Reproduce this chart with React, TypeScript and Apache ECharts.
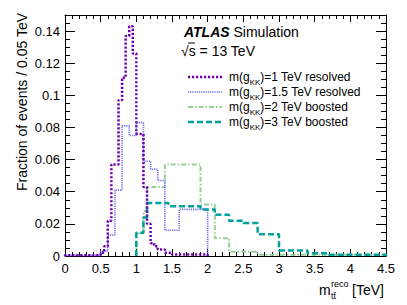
import React, { useEffect, useRef } from "react";
import * as echarts from "echarts";

const FONT = "'Liberation Sans', Arial, Helvetica, sans-serif";

// Bin edges (TeV) and fraction of events per bin
const purpleEdges = [0, 0.5, 0.55, 0.6, 0.65, 0.75, 0.8, 0.85, 0.9, 0.95, 1.0, 1.1, 1.15, 1.2, 1.25, 1.3, 1.4, 1.5, 2.0];
const purpleValues = [0.0005, 0.002, 0.006, 0.022, 0.057, 0.097, 0.111, 0.137, 0.143, 0.126, 0.076, 0.043, 0.02, 0.008, 0.006, 0.004, 0.002, 0.001];

const blueEdges = [0, 0.5, 0.6, 0.7, 0.8, 0.9, 1.0, 1.1, 1.2, 1.3, 1.4, 1.6, 2.0];
const blueValues = [0.0005, 0.003, 0.013, 0.041, 0.081, 0.075, 0.083, 0.059, 0.054, 0.047, 0.016, 0.029];

const greenEdges = [1.0, 1.1, 1.15, 1.4, 1.9, 2.1, 2.3, 2.7, 4.5];
const greenValues = [0.014, 0.028, 0.043, 0.057, 0.032, 0.011, 0.0027, 0.0008];

const tealEdges = [1.0, 1.1, 1.15, 1.45, 1.9, 2.1, 2.3, 2.5, 2.7, 3.0, 3.4, 3.7, 4.5];
const tealValues = [0.0144, 0.024, 0.033, 0.031, 0.029, 0.0256, 0.022, 0.0205, 0.0135, 0.0035, 0.0017, 0.0008];

const legendLabels = ["=1 TeV resolved", "=1.5 TeV resolved", "=2 TeV boosted", "=3 TeV boosted"];

const COLORS = {
  purple: "#6e00b0",
  blue: "#6c6cf2",
  green: "#95d095",
  teal: "#00a09c",
};

const STYLES = [
  { color: COLORS.purple, width: 2.5, dash: [2.2, 1.8] },
  { color: COLORS.blue, width: 1.6, dash: [1.2, 1] },
  { color: COLORS.green, width: 2, dash: [5, 2, 1.5, 2] },
  { color: COLORS.teal, width: 2.5, dash: [6, 3] },
];

function stepPoints(edges: number[], values: number[]): number[][] {
  const pts: number[][] = [[edges[0], 0]];
  values.forEach((v, i) => {
    pts.push([edges[i], v]);
    pts.push([edges[i + 1], v]);
  });
  pts.push([edges[edges.length - 1], 0]);
  return pts;
}

function axisCommon(showLabel: boolean, majorLen: number, minorLen: number, split: number) {
  return {
    axisLine: { show: true, onZero: false, lineStyle: { color: "#000", width: 1 } },
    axisTick: { show: true, inside: true, length: majorLen, lineStyle: { color: "#000", width: 1 } },
    minorTick: { show: true, splitNumber: split, length: minorLen, lineStyle: { color: "#000", width: 1 } },
    splitLine: { show: false },
    minorSplitLine: { show: false },
    axisLabel: {
      show: showLabel,
      color: "#000",
      fontSize: 13,
      fontFamily: FONT,
    },
  };
}

export default function App() {
  const ref = useRef<HTMLDivElement>(null);

  useEffect(() => {
    if (!ref.current) return;
    const chart = echarts.init(ref.current, undefined, { renderer: "svg" });

    const seriesDefs = [
      { name: "m(gKK)=2 TeV boosted", edges: greenEdges, values: greenValues, st: STYLES[2] },
      { name: "m(gKK)=1.5 TeV resolved", edges: blueEdges, values: blueValues, st: STYLES[1] },
      { name: "m(gKK)=3 TeV boosted", edges: tealEdges, values: tealValues, st: STYLES[3] },
      { name: "m(gKK)=1 TeV resolved", edges: purpleEdges, values: purpleValues, st: STYLES[0] },
    ];

    const legendY = [77, 92, 107, 122];
    const legendGraphics: any[] = [];
    legendLabels.forEach((lab, i) => {
      const st = STYLES[i];
      legendGraphics.push({
        type: "line",
        shape: { x1: 188, y1: legendY[i], x2: 222, y2: legendY[i] },
        style: { stroke: st.color, lineWidth: st.width, lineDash: st.dash },
      });
      legendGraphics.push({
        type: "text",
        x: 229,
        y: legendY[i],
        style: {
          text: "m(g{sub|KK})" + lab,
          fontSize: 12,
          fontFamily: FONT,
          fill: "#000",
          verticalAlign: "middle",
          rich: {
            sub: { fontSize: 8, fontFamily: FONT, fill: "#000", verticalAlign: "bottom", lineHeight: 18 },
          },
        },
      });
    });

    chart.setOption({
      animation: false,
      grid: { left: 65, right: 21, top: 15, bottom: 49 },
      xAxis: [
        {
          type: "value",
          min: 0,
          max: 4.5,
          interval: 0.5,
          position: "bottom",
          ...axisCommon(true, 7, 4, 5),
          axisLabel: { ...axisCommon(true, 7, 4, 5).axisLabel, margin: 6 },
        },
        {
          type: "value",
          min: 0,
          max: 4.5,
          interval: 0.5,
          position: "top",
          ...axisCommon(false, 7, 4, 5),
        },
      ],
      yAxis: [
        {
          type: "value",
          min: 0,
          max: 0.15,
          interval: 0.02,
          position: "left",
          ...axisCommon(true, 10, 5, 4),
          axisLabel: { ...axisCommon(true, 10, 5, 4).axisLabel, margin: 5, showMaxLabel: false },
        },
        {
          type: "value",
          min: 0,
          max: 0.15,
          interval: 0.02,
          position: "right",
          ...axisCommon(false, 10, 5, 4),
        },
      ],
      series: seriesDefs.map((s) => ({
        type: "line",
        name: s.name,
        data: stepPoints(s.edges, s.values),
        showSymbol: false,
        symbol: "none",
        silent: true,
        lineStyle: { color: s.st.color, width: s.st.width, type: s.st.dash },
        xAxisIndex: 0,
        yAxisIndex: 0,
      })),
      graphic: [
        {
          type: "text",
          x: 22,
          y: 13,
          rotation: Math.PI / 2,
          style: {
            text: "Fraction of events / 0.05 TeV",
            fontSize: 14,
            fontFamily: FONT,
            fill: "#000",
            align: "right",
            verticalAlign: "middle",
          },
        },
        {
          type: "text",
          x: 184,
          y: 32,
          style: {
            text: "{a|ATLAS} Simulation",
            fontSize: 14,
            fontFamily: FONT,
            fill: "#000",
            verticalAlign: "middle",
            rich: {
              a: { fontSize: 14, fontFamily: FONT, fontWeight: "bold", fontStyle: "italic", fill: "#000" },
            },
          },
        },
        {
          type: "text",
          x: 181,
          y: 51,
          style: {
            text: "\u221As = 13 TeV",
            fontSize: 14,
            fontFamily: FONT,
            fill: "#000",
            verticalAlign: "middle",
          },
        },
        {
          type: "line",
          shape: { x1: 188, y1: 43, x2: 195, y2: 43 },
          style: { stroke: "#000", lineWidth: 1 },
        },
        ...legendGraphics,
        {
          type: "text",
          x: 319,
          y: 290,
          style: { text: "m", fontSize: 14, fontFamily: FONT, fill: "#000", verticalAlign: "middle" },
        },
        {
          type: "text",
          x: 331,
          y: 284,
          style: { text: "reco", fontSize: 9, fontFamily: FONT, fill: "#000", verticalAlign: "middle" },
        },
        {
          type: "text",
          x: 331,
          y: 296,
          style: { text: "tt\u0304", fontSize: 9, fontFamily: FONT, fill: "#000", verticalAlign: "middle" },
        },
        {
          type: "text",
          x: 352,
          y: 290,
          style: { text: "[TeV]", fontSize: 14, fontFamily: FONT, fill: "#000", verticalAlign: "middle" },
        },
      ],
    });

    return () => chart.dispose();
  }, []);

  return (
    <div
      ref={ref}
      style={{ position: "absolute", left: 0, top: 0, width: 407, height: 305, background: "#fff" }}
    />
  );
}
